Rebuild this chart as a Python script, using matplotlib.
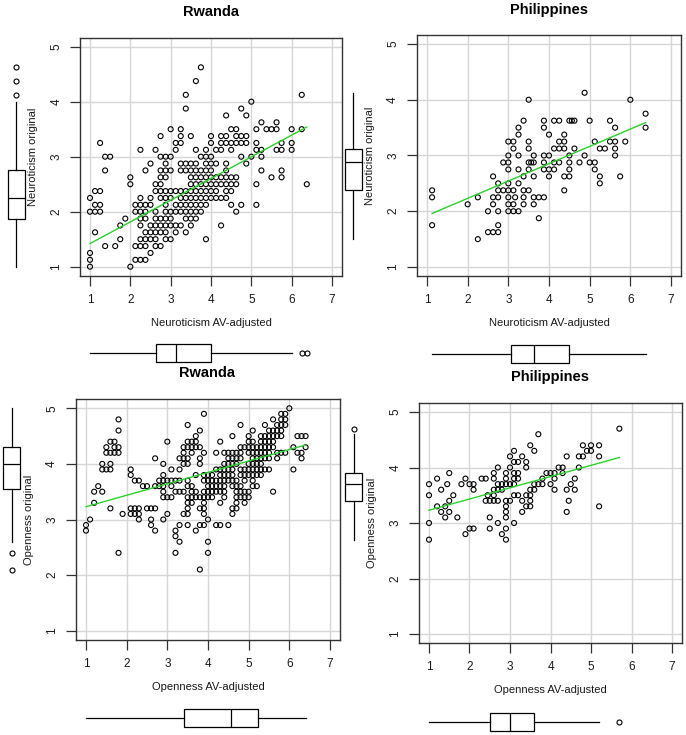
import matplotlib
matplotlib.use("Agg")
import matplotlib.pyplot as plt
import numpy as np

plt.rcParams['font.family'] = ['Liberation Sans', 'DejaVu Sans']

W, H = 686, 735

# ---------------- DATA ----------------
# Panel 1: Rwanda, Neuroticism (rows: y value -> x values)
rw_neu_rows = [
    (1.0,   [1.0, 2.0]),
    (1.125, [1.0, 2.125, 2.25, 2.375]),
    (1.25,  [1.0, 2.5]),
    (1.375, [1.375, 1.625, 2.125, 2.25, 2.375, 2.625, 2.75]),
    (1.5,   [1.75, 2.25, 2.375, 2.5, 2.625, 2.875, 3.0, 3.875]),
    (1.625, [1.125, 2.375, 2.5, 2.625, 2.75, 2.875, 3.125, 3.375]),
    (1.75,  [1.75, 2.25, 2.5, 2.625, 2.75, 2.875, 3.0, 3.125, 3.25, 3.5, 4.25]),
    (1.875, [1.875, 2.25, 2.375, 2.625, 2.75, 2.875, 3.0, 3.375, 3.5, 3.625]),
    (2.0,   [1.0, 1.125, 1.25, 2.125, 2.25, 2.375, 2.625, 2.875, 3.0, 3.125, 3.25, 3.375, 3.5, 3.625, 3.75, 4.625]),
    (2.125, [1.125, 1.25, 2.125, 2.25, 2.375, 2.5, 2.875, 3.125, 3.25, 3.375, 3.5, 3.625, 3.75, 3.875, 4.5, 4.75, 5.125]),
    (2.25,  [1.0, 2.25, 2.5, 2.75, 2.875, 3.0, 3.25, 3.375, 3.5, 3.625, 3.75, 3.875, 4.0, 4.125, 4.25, 4.375]),
    (2.375, [1.125, 1.25, 2.625, 2.75, 2.875, 3.0, 3.125, 3.25, 3.375, 3.5, 3.625, 3.75, 3.875, 4.0, 4.125, 4.375, 4.5]),
    (2.5,   [2.0, 2.625, 2.75, 3.5, 3.625, 3.75, 3.875, 4.0, 4.125, 4.25, 4.375, 4.5, 4.625, 5.125, 6.375]),
    (2.625, [2.0, 2.75, 2.875, 3.5, 3.625, 3.75, 3.875, 4.0, 4.125, 4.25, 4.375, 4.5, 4.625, 5.5, 5.75]),
    (2.75,  [1.375, 2.375, 2.75, 2.875, 3.0, 3.25, 3.375, 3.5, 3.625, 3.75, 3.875, 4.0, 4.375, 5.25, 5.75]),
    (2.875, [2.5, 2.875, 3.25, 3.375, 3.5, 3.625, 3.875, 4.0, 4.125, 4.375, 4.875]),
    (3.0,   [1.375, 1.5, 2.75, 2.875, 3.0, 3.75, 3.875, 4.0, 4.75, 5.0, 5.25]),
    (3.125, [2.25, 2.625, 3.125, 3.625, 3.875, 4.125, 4.25, 4.5, 5.125, 5.25, 5.625, 5.75, 6.0]),
    (3.25,  [1.25, 3.125, 3.25, 4.0, 4.25, 4.375, 4.5, 4.625, 4.75, 4.875, 5.125, 5.75, 6.0]),
    (3.375, [2.75, 3.25, 3.5, 4.0, 4.25, 4.375, 4.625, 4.75, 4.875]),
    (3.5,   [3.0, 3.25, 4.5, 4.625, 5.125, 5.375, 5.5, 5.625, 6.0, 6.25]),
    (3.625, [5.25, 5.625]),
    (3.75,  [4.375, 4.875]),
    (3.875, [3.375, 4.75]),
    (4.0,   [5.0]),
    (4.125, [3.375, 6.25]),
    (4.375, [3.625]),
    (4.625, [3.75]),
]
rw_neu_fit_x = [1.0, 6.375]
rw_neu_fit_y = [1.42, 3.54]
rw_neu_box_y = dict(whislo=1.0, q1=1.875, med=2.25, q3=2.75, whishi=4.0, fliers=[4.125, 4.375, 4.625])
rw_neu_box_x = dict(whislo=1.0, q1=2.625, med=3.125, q3=4.0, whishi=6.0, fliers=[6.25, 6.375])

# Panel 2: Philippines, Neuroticism
ph_neu_x = [1.125, 1.125, 1.125, 2.0, 2.25, 2.25, 2.5, 2.5, 2.625, 2.625, 2.625, 2.625,
            2.75, 2.75, 2.75, 2.75, 2.75, 2.75, 2.875, 2.875,
            3.0, 3.0, 3.0, 3.0, 3.0, 3.0, 3.0, 3.0, 3.0,
            3.125, 3.125, 3.125, 3.125, 3.125, 3.167,
            3.25, 3.25, 3.25, 3.25, 3.25, 3.25,
            3.375, 3.375, 3.375, 3.375, 3.375,
            3.5, 3.5, 3.5, 3.5, 3.5, 3.5, 3.562,
            3.625, 3.625, 3.625, 3.625, 3.625, 3.75, 3.75,
            3.875, 3.875, 3.875, 3.875, 3.875, 3.875,
            4.0, 4.0, 4.0, 4.0, 4.125, 4.125, 4.125, 4.125,
            4.25, 4.25, 4.25, 4.25, 4.375, 4.375, 4.375, 4.375, 4.375,
            4.5, 4.5, 4.5, 4.5, 4.5, 4.562, 4.625, 4.625, 4.75, 4.875, 4.875,
            5.0, 5.0, 5.125, 5.125, 5.125, 5.25, 5.25, 5.25, 5.375, 5.5, 5.5,
            5.625, 5.625, 5.625, 5.625, 5.75, 5.875, 6.0, 6.375, 6.375]
ph_neu_y = [2.375, 2.25, 1.75, 2.125, 2.25, 1.5, 2.0, 1.625, 2.625, 2.25, 2.125, 1.625,
            2.5, 2.375, 2.25, 2.0, 1.75, 1.625, 2.875, 2.375,
            3.25, 3.0, 2.875, 2.75, 2.5, 2.375, 2.25, 2.125, 2.0,
            3.25, 3.125, 2.375, 2.125, 2.0, 2.25,
            3.5, 3.375, 3.0, 2.75, 2.5, 2.0,
            3.625, 2.625, 2.375, 2.25, 2.125,
            4.0, 3.25, 3.125, 2.875, 2.75, 2.375, 2.875,
            2.875, 3.0, 2.625, 2.25, 2.125, 2.25, 1.875,
            3.625, 3.5, 3.0, 2.875, 2.75, 2.25,
            3.375, 3.0, 2.75, 2.625, 3.625, 3.125, 2.875, 2.75,
            3.625, 3.25, 3.125, 2.875, 3.375, 3.25, 3.125, 2.625, 2.375,
            3.625, 3.0, 2.875, 2.75, 2.625, 3.625, 3.625, 3.125, 2.875, 4.125, 3.0,
            3.625, 2.875, 3.25, 2.875, 2.75, 3.125, 2.625, 2.5, 3.125, 3.625, 3.25,
            3.5, 3.25, 3.125, 3.0, 2.625, 3.25, 4.0, 3.75, 3.5]
ph_neu_fit_x = [1.125, 6.375]
ph_neu_fit_y = [1.96, 3.59]
ph_neu_box_y = dict(whislo=1.5, q1=2.375, med=2.875, q3=3.125, whishi=4.125, fliers=[])
ph_neu_box_x = dict(whislo=1.125, q1=3.06, med=3.625, q3=4.5, whishi=6.375, fliers=[])

# Panel 3: Rwanda, Openness (rows: y value -> x values)
rw_ope_rows = [
    (5.0, [6.0]),
    (4.9, [3.9, 5.8, 5.9]),
    (4.8, [1.8, 5.6, 5.8, 5.9]),
    (4.7, [3.5, 4.8, 5.4, 5.7, 5.8, 5.9]),
    (4.6, [1.8, 3.8, 5.1, 5.5, 5.6, 5.7, 5.8]),
    (4.5, [3.7, 4.6, 5.0, 5.3, 5.4, 5.5, 5.6, 5.7, 5.8, 6.2, 6.3, 6.4]),
    (4.4, [1.6, 1.7, 3.0, 3.5, 3.6, 3.7, 4.3, 5.0, 5.1, 5.3, 5.4, 5.5, 5.6]),
    (4.3, [1.5, 1.7, 1.8, 3.4, 3.5, 3.6, 3.7, 3.8, 4.8, 4.9, 5.0, 5.1, 5.2, 5.3, 5.4, 5.5, 5.6, 6.1, 6.4]),
    (4.2, [1.5, 1.6, 1.7, 1.8, 3.4, 3.6, 3.9, 4.2, 4.4, 4.5, 4.6, 4.7, 4.8, 5.0, 5.1, 5.2, 5.3, 5.4, 5.5, 5.7, 5.8, 5.9, 6.2, 6.3]),
    (4.1, [2.7, 3.3, 3.4, 3.5, 3.8, 4.5, 4.6, 4.7, 4.8, 5.1, 5.2, 5.3, 5.4, 5.5, 5.7, 6.3]),
    (4.0, [1.4, 1.6, 2.9, 3.4, 3.5, 3.8, 4.4, 4.5, 4.6, 4.7, 5.0, 5.1, 5.2, 5.3]),
    (3.9, [1.4, 1.5, 1.6, 2.1, 3.1, 3.3, 4.2, 4.3, 4.4, 4.5, 4.6, 4.8, 4.9, 5.0, 5.1, 5.2, 5.3, 5.4, 5.5, 6.1]),
    (3.8, [2.1, 2.9, 3.7, 3.9, 4.0, 4.1, 4.3, 4.4, 4.5, 4.6, 4.8, 4.9, 5.0, 5.1, 5.2, 5.3]),
    (3.7, [2.2, 2.3, 2.8, 2.9, 3.0, 3.1, 3.2, 3.3, 3.5, 3.9, 4.0, 4.1, 4.2, 4.3, 4.4, 4.5, 4.6, 4.7, 4.9, 5.1]),
    (3.6, [1.3, 2.4, 2.5, 2.7, 2.8, 2.9, 3.1, 3.5, 3.6, 4.0, 4.1, 4.2, 4.3, 4.4, 4.6, 4.7, 4.8, 5.1, 5.2]),
    (3.5, [1.2, 1.4, 2.9, 3.2, 3.3, 3.4, 3.6, 3.7, 3.9, 4.0, 4.1, 4.2, 4.3, 4.4, 4.7, 4.8, 4.9, 5.0, 5.6]),
    (3.4, [2.9, 3.0, 3.1, 3.5, 3.6, 3.7, 3.8, 3.9, 4.0, 4.1, 4.4, 4.7, 4.8, 4.9, 5.0]),
    (3.3, [1.2, 3.5, 3.6, 3.9, 4.3, 4.7, 4.9]),
    (3.2, [1.6, 2.1, 2.2, 2.3, 2.5, 2.6, 2.7, 3.5, 3.8, 3.9, 4.6, 4.7]),
    (3.1, [1.9, 2.1, 2.2, 2.3, 3.0, 3.4, 3.5, 3.9, 4.6]),
    (3.0, [1.1, 2.3, 2.6, 2.9, 4.0]),
    (2.9, [1.0, 2.6, 3.3, 3.5, 3.8, 3.9, 4.2, 4.3, 4.5]),
    (2.8, [1.0, 2.7, 3.2, 3.7]),
    (2.7, [3.2]),
    (2.6, [3.3, 4.0]),
    (2.4, [1.8, 3.2, 4.0]),
    (2.1, [3.8]),
]
rw_ope_fit_x = [1.0, 6.4]
rw_ope_fit_y = [3.23, 4.34]
rw_ope_box_y = dict(whislo=2.6, q1=3.55, med=4.0, q3=4.3, whishi=5.0, fliers=[2.4, 2.1])
rw_ope_box_x = dict(whislo=1.0, q1=3.4, med=4.57, q3=5.22, whishi=6.4, fliers=[])

# Panel 4: Philippines, Openness
ph_ope_x = [1.0, 1.0, 1.0, 1.0, 1.2, 1.2, 1.3, 1.3, 1.4, 1.4, 1.45, 1.5, 1.5, 1.5, 1.6, 1.7,
            1.8, 1.9, 1.9, 2.0, 2.0, 2.1, 2.1, 2.1, 2.3, 2.4, 2.4, 2.45, 2.5, 2.5, 2.5,
            2.6, 2.6, 2.6, 2.6, 2.6, 2.7, 2.7, 2.7, 2.7, 2.7, 2.8, 2.8, 2.8,
            2.9, 2.9, 2.9, 2.9, 2.9, 2.9, 2.9, 2.9, 2.9, 3.0, 3.0, 3.0, 3.0,
            3.1, 3.1, 3.1, 3.1, 3.1, 3.1, 3.1, 3.2, 3.2, 3.2, 3.2, 3.3, 3.3, 3.3,
            3.4, 3.4, 3.4, 3.4, 3.5, 3.5, 3.5, 3.5, 3.5, 3.6, 3.6, 3.6, 3.7, 3.7,
            3.8, 3.8, 3.9, 4.0, 4.0, 4.1, 4.1, 4.1, 4.2, 4.3, 4.3, 4.4, 4.4, 4.4, 4.45,
            4.5, 4.6, 4.6, 4.7, 4.7, 4.8, 4.8, 4.9, 5.0, 5.0, 5.2, 5.2, 5.2, 5.7]
ph_ope_y = [3.7, 3.5, 3.0, 2.7, 3.8, 3.3, 3.6, 3.2, 3.3, 3.1, 3.7, 3.9, 3.4, 3.2, 3.5, 3.1,
            3.7, 3.8, 2.8, 3.7, 2.9, 3.7, 3.6, 2.9, 3.8, 3.8, 3.4, 3.5, 3.4, 3.1, 2.9,
            3.9, 3.8, 3.6, 3.5, 3.4, 4.0, 3.7, 3.6, 3.4, 3.0, 3.7, 3.6, 2.8,
            3.9, 3.8, 3.7, 3.4, 3.3, 3.2, 3.1, 2.9, 2.7, 4.2, 4.0, 3.7, 3.4,
            4.3, 4.1, 3.9, 3.8, 3.7, 3.5, 3.0, 4.1, 3.9, 3.8, 3.5, 4.2, 3.4, 3.2,
            4.1, 4.0, 3.5, 3.3, 4.4, 3.6, 3.5, 3.4, 3.3, 4.3, 3.7, 3.6, 4.6, 3.7,
            3.8, 3.7, 3.9, 3.9, 3.7, 3.9, 3.8, 3.6, 4.0, 4.0, 3.9, 4.2, 3.6, 3.2, 3.4,
            3.7, 3.8, 3.6, 4.2, 4.0, 4.4, 4.2, 4.3, 4.4, 4.3, 4.4, 4.2, 3.3, 4.7]
ph_ope_fit_x = [1.0, 5.7]
ph_ope_fit_y = [3.23, 4.18]
ph_ope_box_y = dict(whislo=2.7, q1=3.4, med=3.7, q3=3.9, whishi=4.6, fliers=[4.7])
ph_ope_box_x = dict(whislo=1.0, q1=2.5, med=3.0, q3=3.6, whishi=5.2, fliers=[5.7])

titles = ["Rwanda", "Philippines", "Rwanda", "Philippines"]
xlabels = ["Neuroticism AV-adjusted", "Neuroticism AV-adjusted", "Openness AV-adjusted", "Openness AV-adjusted"]
ylabels = ["Neuroticism original", "Neuroticism original", "Openness original", "Openness original"]
axis_ticks = [1, 2, 3, 4, 5, 6, 7]
yaxis_ticks = [1, 2, 3, 4, 5]


def rows_to_xy(rows):
    xs, ys = [], []
    for yv, xl in rows:
        for xv in xl:
            xs.append(xv)
            ys.append(yv)
    return xs, ys


rw_neu_x, rw_neu_y = rows_to_xy(rw_neu_rows)
rw_ope_x, rw_ope_y = rows_to_xy(rw_ope_rows)

# ---------------- LAYOUT (pixel geometry) ----------------
# (px of x=1, px of x=7, py of y=5, py of y=1, left box center x, bottom box center y, title x, title y)
geom = [
    (90, 332, 46.7, 266.7, 16, 353, 211, 12),
    (427, 671, 44, 267, 353, 354, 549, 10),
    (86, 330, 408.3, 630.7, 11.5, 718, 207, 373),
    (429, 672, 412, 634, 353.5, 721.5, 550, 377),
]

panels = [
    (rw_neu_x, rw_neu_y, rw_neu_fit_x, rw_neu_fit_y, rw_neu_box_y, rw_neu_box_x),
    (ph_neu_x, ph_neu_y, ph_neu_fit_x, ph_neu_fit_y, ph_neu_box_y, ph_neu_box_x),
    (rw_ope_x, rw_ope_y, rw_ope_fit_x, rw_ope_fit_y, rw_ope_box_y, rw_ope_box_x),
    (ph_ope_x, ph_ope_y, ph_ope_fit_x, ph_ope_fit_y, ph_ope_box_y, ph_ope_box_x),
]

fig = plt.figure(figsize=(W / 100, H / 100), dpi=100)
fig.patch.set_facecolor('white')

TXT = '#1a1a1a'
XLIM = (0.76, 7.24)
YLIM = (0.84, 5.16)


def add_px_axes(l, t, r, b):
    return fig.add_axes([l / W, 1 - b / H, (r - l) / W, (b - t) / H])


def box_style():
    return dict(
        boxprops=dict(color='black', lw=0.9),
        whiskerprops=dict(color='black', lw=0.9),
        medianprops=dict(color='black', lw=0.9),
        flierprops=dict(marker='o', markerfacecolor='none', markeredgecolor='black',
                        markersize=3.6, markeredgewidth=0.8, linestyle='none'),
        showcaps=False, patch_artist=True,
    )


for i, (g, p) in enumerate(zip(geom, panels)):
    px1, px7, py5, py1, bcx, bcy, tx, ty = g
    xs, ys, fx, fy, by, bx = p
    ppx = (px7 - px1) / 6.0
    ppy = (py1 - py5) / 4.0
    left = px1 - (1 - XLIM[0]) * ppx
    right = px7 + (XLIM[1] - 7) * ppx
    top = py5 - (YLIM[1] - 5) * ppy
    bottom = py1 + (1 - YLIM[0]) * ppy

    ax = add_px_axes(left, top, right, bottom)
    ax.set_xlim(*XLIM)
    ax.set_ylim(*YLIM)
    ax.set_xticks(axis_ticks)
    ax.set_yticks(yaxis_ticks)
    ax.grid(True, color='#d6d6d6', lw=1.0)
    ax.set_axisbelow(True)
    for s in ax.spines.values():
        s.set_color('#333333')
        s.set_linewidth(1.0)
    ax.tick_params(direction='out', length=7, width=0.9, color='#333333',
                   labelsize=8.5, labelcolor=TXT, pad=6)
    for lab in ax.get_yticklabels():
        lab.set_rotation(90)
        lab.set_va('center')
    ax.scatter(xs, ys, s=13, facecolors='none', edgecolors='black', linewidths=0.8, zorder=3)
    ax.plot(fx, fy, color='#2bd12b', lw=1.0, zorder=4)

    wpx = right - left
    hpx = bottom - top
    ax.set_xlabel(xlabels[i], fontsize=8, color=TXT)
    ax.set_ylabel(ylabels[i], fontsize=8, color=TXT)
    ax.xaxis.set_label_coords(0.5, -47 / hpx)
    ax.xaxis.label.set_va('center')
    ax.yaxis.set_label_coords(-47 / wpx, 0.5)
    ax.yaxis.label.set_va('center')

    fig.text(tx / W, 1 - ty / H, titles[i], ha='center', va='center',
             fontsize=10.5, fontweight='bold', color='black')

    # left (vertical) boxplot
    axl = add_px_axes(bcx - 20, top, bcx + 20, bottom)
    axl.set_xlim(-1, 1)
    axl.set_ylim(*YLIM)
    st = dict(by)
    st['label'] = ''
    bpl = axl.bxp([st], positions=[0], widths=17 / 20, orientation='vertical', **box_style())
    for b in bpl['boxes']:
        b.set_facecolor('white')
    axl.axis('off')

    # bottom (horizontal) boxplot
    axb = add_px_axes(left, bcy - 20, right, bcy + 20)
    axb.set_xlim(*XLIM)
    axb.set_ylim(-1, 1)
    st = dict(bx)
    st['label'] = ''
    bpb = axb.bxp([st], positions=[0], widths=18 / 20, orientation='horizontal', **box_style())
    for b in bpb['boxes']:
        b.set_facecolor('white')
    axb.axis('off')

fig.savefig('out.png', dpi=100, facecolor='white')
